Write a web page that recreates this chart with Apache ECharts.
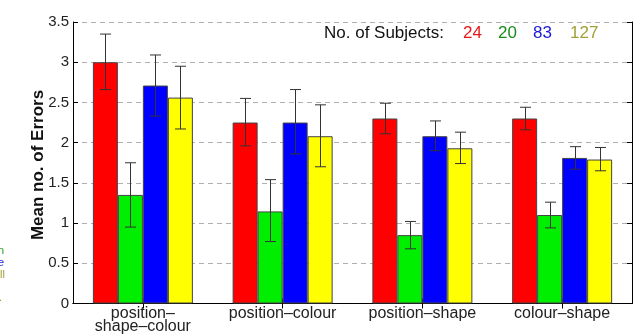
<!DOCTYPE html>
<html><head><meta charset="utf-8">
<script src="https://cdn.jsdelivr.net/npm/echarts@6/dist/echarts.min.js"></script>
<style>html,body{margin:0;padding:0;background:#fff}#c{width:643px;height:335px}</style>
</head><body><div id="c"></div>
<script>
const categories = ['position–\nshape–colour', 'position–colour', 'position–shape', 'colour–shape'];
const subjects = ['24', '20', '83', '127'];
const yTicks = [0, 0.5, 1, 1.5, 2, 2.5, 3, 3.5];

const mean24  = [3.00, 2.25, 2.30, 2.30];
const mean20  = [1.35, 1.145, 0.85, 1.10];
const mean83  = [2.71, 2.25, 2.08, 1.81];
const mean127 = [2.56, 2.08, 1.93, 1.79];

const low24  = [2.66, 1.96, 2.11, 2.16];
const high24 = [3.35, 2.55, 2.49, 2.44];
const low20  = [0.95, 0.77, 0.68, 0.94];
const high20 = [1.75, 1.54, 1.02, 1.26];
const low83  = [2.33, 1.86, 1.90, 1.67];
const high83 = [3.09, 2.66, 2.27, 1.95];
const low127  = [2.17, 1.70, 1.74, 1.65];
const high127 = [2.95, 2.47, 2.13, 1.94];

const barColors = ['#ff0000', '#00ee00', '#0000ff', '#ffff00'];
const textColors = ['#e81818', '#1a8c1a', '#1a1ad8', '#a0a038'];
const BAR_W = 25;

const means = [mean24, mean20, mean83, mean127];
const lows = [low24, low20, low83, low127];
const highs = [high24, high20, high83, high127];

const series = [];
means.forEach((m, k) => {
  series.push({
    type: 'bar', name: subjects[k], data: m, barWidth: BAR_W, barGap: '0%',
    itemStyle: { color: barColors[k], borderColor: '#444', borderWidth: 1 },
    z: 2
  });
});
lows.forEach((lo, k) => {
  series.push({
    type: 'custom', name: 'err' + subjects[k], z: 10,
    encode: { x: 0, y: [1, 2] },
    data: lo.map((l, i) => [i, l, highs[k][i]]),
    renderItem: function (params, api) {
      const c = api.value(0);
      const pl = api.coord([c, api.value(1)]);
      const ph = api.coord([c, api.value(2)]);
      const x = Math.round(pl[0] + (k - 1.5) * BAR_W) + 0.5;
      const cap = 5.5;
      const st = { stroke: '#333', lineWidth: 1 };
      return { type: 'group', children: [
        { type: 'line', shape: { x1: x, y1: ph[1], x2: x, y2: pl[1] }, style: st },
        { type: 'line', shape: { x1: x - cap, y1: ph[1], x2: x + cap, y2: ph[1] }, style: st },
        { type: 'line', shape: { x1: x - cap, y1: pl[1], x2: x + cap, y2: pl[1] }, style: st }
      ]};
    }
  });
});

const legendX = [463, 498, 533, 570];
const graphics = [
  { type: 'text', left: 324, top: 25, style: { text: 'No. of Subjects:', font: '17px "Liberation Sans", Arial, sans-serif', fill: '#111' } }
];
subjects.forEach((s, k) => {
  graphics.push({ type: 'text', left: legendX[k], top: 25, style: { text: s, font: '17px "Liberation Sans", Arial, sans-serif', fill: textColors[k] } });
});
graphics.push({ type: 'text', x: 38, y: 165, rotation: Math.PI / 2, style: { text: 'Mean no. of Errors', font: 'bold 17px "Liberation Sans", Arial, sans-serif', fill: '#111', textAlign: 'center', textVerticalAlign: 'middle' } });
// cut-off fragments at the left edge
graphics.push({ type: 'text', x: 4, y: 251, style: { text: 'tion', font: '11px "Liberation Sans", Arial, sans-serif', fill: '#22a022', textAlign: 'right', textVerticalAlign: 'middle' } });
graphics.push({ type: 'text', x: 4, y: 263, style: { text: 'ce', font: '11px "Liberation Sans", Arial, sans-serif', fill: '#1a1ae0', textAlign: 'right', textVerticalAlign: 'middle' } });
graphics.push({ type: 'text', x: 5, y: 275, style: { text: 'all', font: '11px "Liberation Sans", Arial, sans-serif', fill: '#a0a038', textAlign: 'right', textVerticalAlign: 'middle' } });
graphics.push({ type: 'text', x: 2, y: 298, style: { text: '.', font: '11px "Liberation Sans", Arial, sans-serif', fill: '#a0a038', textAlign: 'right', textVerticalAlign: 'middle' } });

const axisLine = { show: true, lineStyle: { color: '#000', width: 1 } };
const option = {
  animation: false,
  backgroundColor: '#fff',
  grid: { left: 73, right: 11, top: 22, bottom: 31 },
  xAxis: [
    { type: 'category', data: categories, position: 'bottom',
      axisLine: axisLine, axisTick: { show: true, inside: true, alignWithLabel: true, length: 5, lineStyle: { color: '#000' } },
      axisLabel: { color: '#222', fontSize: 16, fontFamily: '"Liberation Sans", Arial, sans-serif', margin: 4, lineHeight: 13, interval: 0 } },
    { type: 'category', data: categories, position: 'top',
      axisLine: axisLine, axisTick: { show: true, inside: true, alignWithLabel: true, length: 5, lineStyle: { color: '#000' } },
      axisLabel: { show: false } }
  ],
  yAxis: [
    { type: 'value', min: yTicks[0], max: yTicks[yTicks.length - 1], interval: 0.5, position: 'left',
      axisLine: axisLine, axisTick: { show: true, inside: true, length: 5, lineStyle: { color: '#000' } },
      axisLabel: { color: '#222', fontSize: 15, fontFamily: '"Liberation Sans", Arial, sans-serif', margin: 4 },
      splitLine: { show: true, lineStyle: { color: '#b0b0b0', type: [5, 4], width: 1 } } },
    { type: 'value', min: yTicks[0], max: yTicks[yTicks.length - 1], interval: 0.5, position: 'right',
      axisLine: axisLine, axisTick: { show: true, inside: true, length: 5, lineStyle: { color: '#000' } },
      axisLabel: { show: false }, splitLine: { show: false } }
  ],
  series: series,
  graphic: graphics
};
const chart = echarts.init(document.getElementById('c'), null, { renderer: 'canvas' });
chart.setOption(option);
</script>
</body></html>
